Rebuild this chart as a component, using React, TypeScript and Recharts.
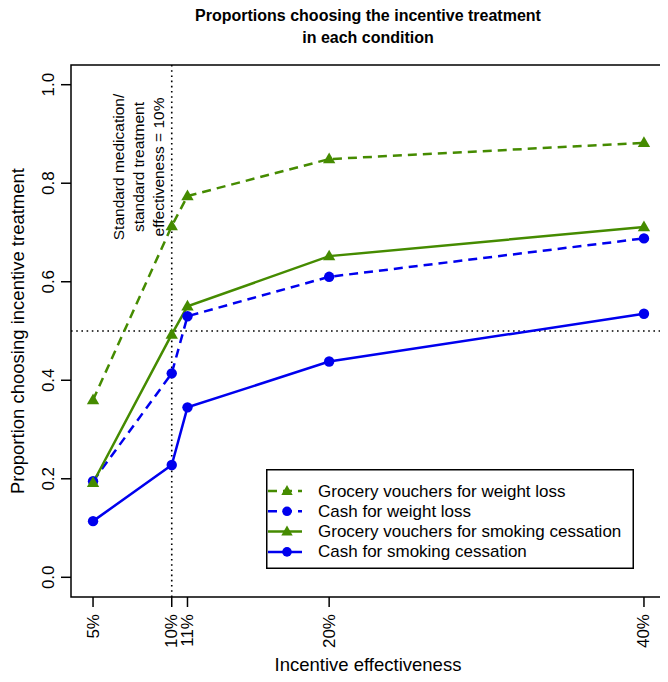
import React from "react";
import {
  LineChart,
  Line,
  XAxis,
  YAxis,
  ReferenceLine,
  ReferenceArea,
  Legend,
} from "recharts";

const xValues = [5, 10, 11, 20, 40];
const yTicks = [0, 0.2, 0.4, 0.6, 0.8, 1.0];
const groceryWeight = [0.36, 0.713, 0.774, 0.849, 0.882];
const cashWeight = [0.195, 0.414, 0.53, 0.61, 0.688];
const grocerySmoking = [0.192, 0.493, 0.55, 0.652, 0.711];
const cashSmoking = [0.114, 0.228, 0.345, 0.438, 0.535];

const seriesNames = [
  "Grocery vouchers for weight loss",
  "Cash for weight loss",
  "Grocery vouchers for smoking cessation",
  "Cash for smoking cessation",
];

const GREEN = "#458B00";
const BLUE = "#0000EE";
const FONT = "'Liberation Sans', Arial, Helvetica, sans-serif";
const DASH = "9 6";

const data = xValues.map((x, i) => ({
  x,
  gw: groceryWeight[i],
  cw: cashWeight[i],
  gs: grocerySmoking[i],
  cs: cashSmoking[i],
}));

const triPath = (cx: number, cy: number, s = 6.5) =>
  `M${cx},${cy - s} L${cx + s * 0.95},${cy + s * 0.65} L${cx - s * 0.95},${cy + s * 0.65} Z`;

const makeTriangle = (color: string) => (props: any) => {
  const { cx, cy, index } = props;
  if (cx == null || cy == null) return <g key={index} />;
  return <path key={index} d={triPath(cx, cy)} fill={color} />;
};
const makeCircle = (color: string) => (props: any) => {
  const { cx, cy, index } = props;
  if (cx == null || cy == null) return <g key={index} />;
  return <circle key={index} cx={cx} cy={cy} r={5.2} fill={color} />;
};

// Plot area in chart coordinates: left 63, right 658, top 57, bottom 589
const PLOT_BOTTOM = 589;

const XTick = (props: any) => {
  const { x, payload } = props;
  const ty = PLOT_BOTTOM + 17;
  return (
    <text
      x={x}
      y={ty}
      transform={`rotate(-90, ${x}, ${ty})`}
      textAnchor="end"
      dominantBaseline="central"
      fontFamily={FONT}
      fontSize={17}
      fill="#000"
    >
      {payload.value}%
    </text>
  );
};

const YTick = (props: any) => {
  const { y, payload } = props;
  const tx = 41;
  return (
    <text
      x={tx}
      y={y}
      transform={`rotate(-90, ${tx}, ${y})`}
      textAnchor="middle"
      dominantBaseline="central"
      fontFamily={FONT}
      fontSize={17}
      fill="#000"
    >
      {Number(payload.value).toFixed(1)}
    </text>
  );
};

const legendItems = [
  { name: seriesNames[0], color: GREEN, dash: DASH, shape: "tri" },
  { name: seriesNames[1], color: BLUE, dash: DASH, shape: "circ" },
  { name: seriesNames[2], color: GREEN, dash: undefined, shape: "tri" },
  { name: seriesNames[3], color: BLUE, dash: undefined, shape: "circ" },
];

const LegendBox = () => (
  <svg width={368} height={100} style={{ display: "block" }}>
    <rect x={0.75} y={0.75} width={366.5} height={98.5} fill="#fff" stroke="#000" strokeWidth={1.5} />
    {legendItems.map((it, i) => {
      const cy = 22 + i * 20.3;
      return (
        <g key={i}>
          <line x1={2} x2={36} y1={cy} y2={cy} stroke={it.color} strokeWidth={2.5} strokeDasharray={it.dash} />
          {it.shape === "tri" ? (
            <path d={triPath(21, cy, 6)} fill={it.color} />
          ) : (
            <circle cx={21} cy={cy} r={4.8} fill={it.color} />
          )}
          <text x={52} y={cy} dominantBaseline="central" fontFamily={FONT} fontSize={17} fill="#000">
            {it.name}
          </text>
        </g>
      );
    })}
  </svg>
);

const AnnotationLabel = (props: any) => {
  const vb = props.viewBox || {};
  const x0 = vb.x ?? 164;
  const yc = (vb.y ?? 57) + 102;
  const lines = ["Standard medication/", "standard treatment", "effectiveness = 10%"];
  return (
    <g>
      {lines.map((t, i) => {
        const lx = x0 - 53 + i * 20;
        return (
          <text
            key={i}
            x={lx}
            y={yc}
            transform={`rotate(-90, ${lx}, ${yc})`}
            textAnchor="middle"
            dominantBaseline="central"
            fontFamily={FONT}
            fontSize={15.5}
            fill="#000"
          >
            {t}
          </text>
        );
      })}
    </g>
  );
};

export default function App() {
  const W = 660;
  const H = 674;
  return (
    <div style={{ width: W, height: H, position: "relative", background: "#fff" }}>
      <LineChart
        width={W}
        height={H}
        data={data}
        margin={{ top: 57, right: 2, bottom: 45, left: 23 }}
      >
        <XAxis
          dataKey="x"
          type="number"
          domain={[3.6, 41.4]}
          ticks={xValues}
          interval={0}
          height={40}
          axisLine={false}
          tickLine={{ stroke: "#000", strokeWidth: 1.5 }}
          tickSize={10}
          tick={<XTick />}
          allowDataOverflow
        />
        <YAxis
          type="number"
          domain={[-0.04, 1.04]}
          ticks={yTicks}
          interval={0}
          width={40}
          axisLine={false}
          tickLine={{ stroke: "#000", strokeWidth: 1.5 }}
          tickSize={10}
          tick={<YTick />}
          allowDataOverflow
        />
        <ReferenceArea
          x1={3.6}
          x2={41.4}
          y1={-0.04}
          y2={1.04}
          fill="none"
          fillOpacity={0}
          stroke="#000"
          strokeWidth={1.5}
          ifOverflow="visible"
        />
        <ReferenceLine
          x={10}
          stroke="#000"
          strokeWidth={1.6}
          strokeDasharray="1.6 3.6"
          label={<AnnotationLabel />}
        />
        <ReferenceLine y={0.5} stroke="#000" strokeWidth={1.6} strokeDasharray="1.6 3.6" />
        <Line
          dataKey="gw"
          name={seriesNames[0]}
          type="linear"
          stroke={GREEN}
          strokeWidth={2.5}
          strokeDasharray={DASH}
          dot={makeTriangle(GREEN)}
          activeDot={false}
          isAnimationActive={false}
        />
        <Line
          dataKey="cw"
          name={seriesNames[1]}
          type="linear"
          stroke={BLUE}
          strokeWidth={2.5}
          strokeDasharray={DASH}
          dot={makeCircle(BLUE)}
          activeDot={false}
          isAnimationActive={false}
        />
        <Line
          dataKey="gs"
          name={seriesNames[2]}
          type="linear"
          stroke={GREEN}
          strokeWidth={2.5}
          dot={makeTriangle(GREEN)}
          activeDot={false}
          isAnimationActive={false}
        />
        <Line
          dataKey="cs"
          name={seriesNames[3]}
          type="linear"
          stroke={BLUE}
          strokeWidth={2.5}
          dot={makeCircle(BLUE)}
          activeDot={false}
          isAnimationActive={false}
        />
        <Legend
          layout="horizontal"
          verticalAlign="middle"
          align="center"
          content={() => <LegendBox />}
          wrapperStyle={{ position: "absolute", left: 258, top: 461, width: 368, height: 100 }}
        />
        <text x={360} y={7} textAnchor="middle" dominantBaseline="central" fontFamily={FONT} fontSize={16} fontWeight="bold" fill="#000">
          Proportions choosing the incentive treatment
        </text>
        <text x={360} y={29} textAnchor="middle" dominantBaseline="central" fontFamily={FONT} fontSize={16} fontWeight="bold" fill="#000">
          in each condition
        </text>
        <text x={9} y={323} transform="rotate(-90, 9, 323)" textAnchor="middle" dominantBaseline="central" fontFamily={FONT} fontSize={18.5} fill="#000">
          Proportion choosing incentive treatment
        </text>
        <text x={360} y={656} textAnchor="middle" dominantBaseline="central" fontFamily={FONT} fontSize={18.5} fill="#000">
          Incentive effectiveness
        </text>
      </LineChart>
    </div>
  );
}
